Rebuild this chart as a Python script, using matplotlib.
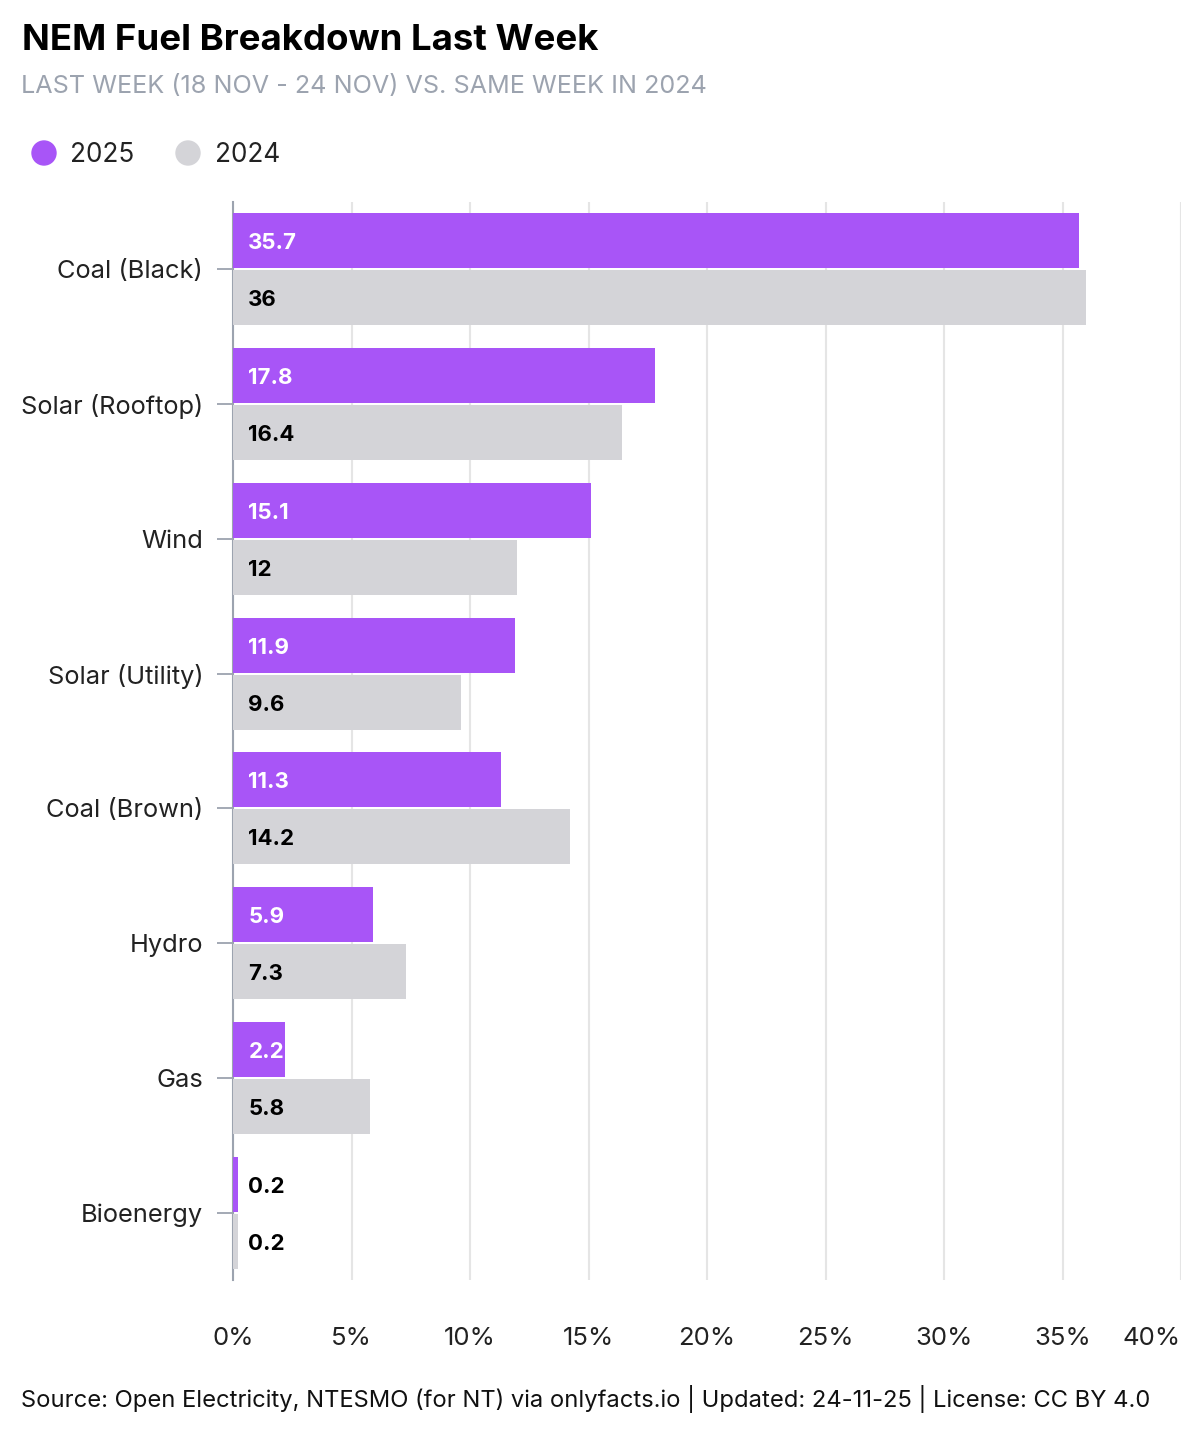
import matplotlib
matplotlib.use("Agg")
import matplotlib.pyplot as plt
from matplotlib.patches import Circle
import numpy as np

plt.rcParams['font.family'] = ['Inter', 'DejaVu Sans']

categories = ["Coal (Black)", "Solar (Rooftop)", "Wind", "Solar (Utility)",
              "Coal (Brown)", "Hydro", "Gas", "Bioenergy"]
values_2025 = [35.7, 17.8, 15.1, 11.9, 11.3, 5.9, 2.2, 0.2]
values_2024 = [36, 16.4, 12, 9.6, 14.2, 7.3, 5.8, 0.2]
labels_2025 = ["35.7", "17.8", "15.1", "11.9", "11.3", "5.9", "2.2", "0.2"]
labels_2024 = ["36", "16.4", "12", "9.6", "14.2", "7.3", "5.8", "0.2"]
xticks = [0, 5, 10, 15, 20, 25, 30, 35, 40]
xtick_labels = ["0%", "5%", "10%", "15%", "20%", "25%", "30%", "35%", "40%"]

PURPLE = "#A855F7"
GREY = "#D4D4D8"
GRID = "#E5E5E5"
AXIS = "#9CA3AF"

W, H = 1200, 1440
fig = plt.figure(figsize=(W / 100, H / 100), dpi=100)

ax_l, ax_r, ax_t, ax_b = 233, 1181, 202, 1280
ax = fig.add_axes([ax_l / W, 1 - ax_b / H, (ax_r - ax_l) / W, (ax_b - ax_t) / H])

n = len(categories)
y = np.arange(n)
h = 0.408
off = 0.212
ax.barh(y - off, values_2025, height=h, color=PURPLE, zorder=3)
ax.barh(y + off, values_2024, height=h, color=GREY, zorder=3)

for i in range(n):
    c25 = "white" if values_2025[i] > 1 else "black"
    ax.annotate(labels_2025[i], (0, y[i] - off), xytext=(11, -1.8), textcoords="offset points",
                ha="left", va="center", fontsize=16, fontweight="bold", color=c25, zorder=5)
    ax.annotate(labels_2024[i], (0, y[i] + off), xytext=(11, -1.8), textcoords="offset points",
                ha="left", va="center", fontsize=16, fontweight="bold", color="black", zorder=5)

ax.set_xlim(0, 40)
ax.set_ylim(n - 0.5, -0.5)
ax.set_xticks(xticks)
ax.set_xticklabels(xtick_labels)
ax.xaxis.grid(True, color=GRID, linewidth=1.5, zorder=0)
ax.set_axisbelow(True)
ax.tick_params(axis="x", length=0, pad=34, labelsize=18.5, labelcolor="#222222")
lbls = ax.get_xticklabels()
lbls[-1].set_horizontalalignment("right")
ax.set_yticks(y)
ax.set_yticklabels(categories)
ax.tick_params(axis="y", length=11.5, width=1.3, color=AXIS, pad=10, labelsize=18.3, labelcolor="#222222")
for s in ["top", "right", "bottom"]:
    ax.spines[s].set_visible(False)
ax.spines["left"].set_color(AXIS)
ax.spines["left"].set_linewidth(1.5)
ax.spines["left"].set_zorder(1)

fig.text(22 / W, 1 - 40 / H, "NEM Fuel Breakdown Last Week", fontsize=26.4, fontweight="bold",
         ha="left", va="center", color="black")
fig.text(21 / W, 1 - 87 / H, "LAST WEEK (18 NOV - 24 NOV) VS. SAME WEEK IN 2024", fontsize=18.1,
         ha="left", va="center", color="#9CA3AF")

# legend
for xx, col in zip([44, 188], [PURPLE, GREY]):
    fig.patches.append(Circle((xx / 100, (H - 153) / 100), 0.12,
                              transform=fig.dpi_scale_trans, color=col))
for xx, lab in zip([70, 215], ["2025", "2024"]):
    fig.text(xx / W, 1 - 155 / H, lab, fontsize=18.8, ha="left", va="center", color="#222222")

fig.text(21 / W, 1 - 1399 / H,
         "Source: Open Electricity, NTESMO (for NT) via onlyfacts.io | Updated: 24-11-25 | License: CC BY 4.0",
         fontsize=17.1, ha="left", va="center", color="#111111")

fig.savefig("out.png", dpi=100)
